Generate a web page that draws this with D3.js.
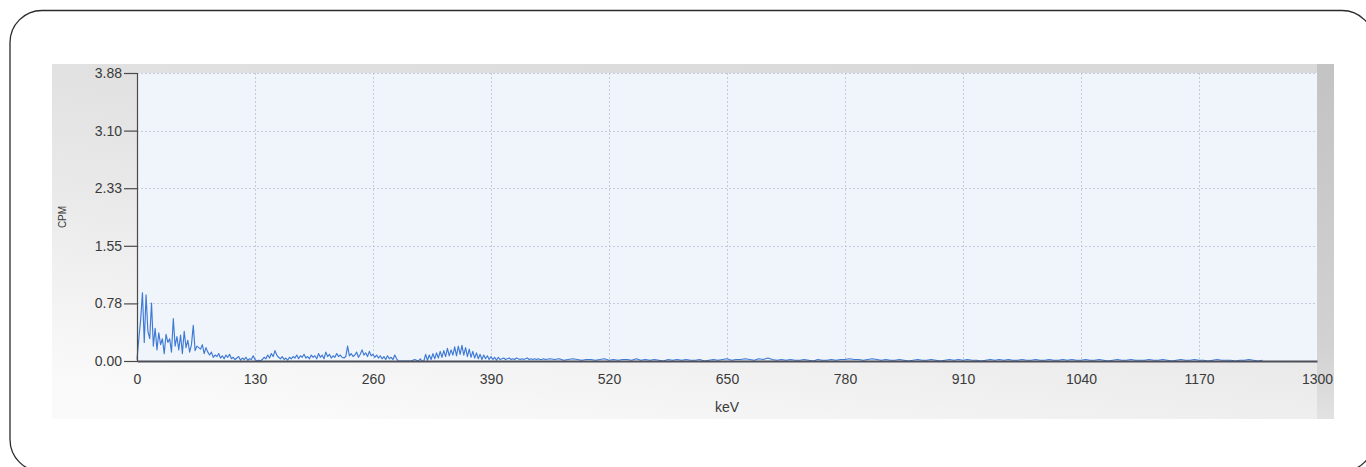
<!DOCTYPE html>
<html>
<head>
<meta charset="utf-8">
<script src="https://cdn.jsdelivr.net/npm/d3@7"></script>
<style>
  html, body { margin: 0; padding: 0; background: #ffffff; }
  svg { display: block; }
  text { font-family: "Liberation Sans", Arial, sans-serif; }
</style>
</head>
<body>
<svg id="chart" width="1366" height="467"></svg>
<script>
// Gamma spectrum: counts per minute by energy channel
const xTicks = [0, 130, 260, 390, 520, 650, 780, 910, 1040, 1170, 1300];
const yTicks = [0, 0.776, 1.552, 2.328, 3.104, 3.88];
const xTitle = "keV";
const yTitle = "CPM";

// Low-energy channels: 0 .. 450 keV, 2 keV wide
const lowStart = 0, lowStep = 2;
const lowCounts = [
  0.02, 0.30, 0.55, 0.92, 0.25, 0.89, 0.40, 0.30, 0.78, 0.20,
  0.44, 0.15, 0.38, 0.22, 0.30, 0.10, 0.36, 0.25, 0.30, 0.12,
  0.57, 0.20, 0.33, 0.15, 0.35, 0.10, 0.40, 0.18, 0.28, 0.12,
  0.22, 0.48, 0.14, 0.20, 0.18, 0.16, 0.22, 0.10, 0.18, 0.12,
  0.08, 0.12, 0.05, 0.08, 0.06, 0.10, 0.04, 0.07, 0.03, 0.08,
  0.05, 0.09, 0.03, 0.05, 0.02, 0.04, 0.06, 0.01, 0.04, 0.02,
  0.05, 0.01, 0.03, 0.02, 0.07, 0.02, 0.00, 0.01, 0.00, 0.02,
  0.05, 0.03, 0.08, 0.04, 0.10, 0.06, 0.14, 0.08, 0.05, 0.03,
  0.06, 0.02, 0.04, 0.01, 0.05, 0.03, 0.06, 0.04, 0.08, 0.03,
  0.07, 0.05, 0.09, 0.04, 0.06, 0.03, 0.08, 0.05, 0.07, 0.03,
  0.10, 0.05, 0.08, 0.03, 0.12, 0.06, 0.09, 0.04, 0.07, 0.05,
  0.10, 0.06, 0.08, 0.05, 0.04, 0.06, 0.20, 0.07, 0.10, 0.06,
  0.08, 0.12, 0.05, 0.09, 0.15, 0.08, 0.11, 0.06, 0.13, 0.07,
  0.09, 0.05, 0.08, 0.04, 0.07, 0.03, 0.06, 0.02, 0.07, 0.03,
  0.05, 0.02, 0.08, 0.03, 0.00, 0.00, 0.00, 0.00, 0.00, 0.00,
  0.00, 0.00, 0.01, 0.02, 0.01, 0.00, 0.03, 0.00, 0.00, 0.09,
  0.01, 0.08, 0.02, 0.10, 0.03, 0.11, 0.04, 0.13, 0.05, 0.14,
  0.06, 0.17, 0.07, 0.15, 0.08, 0.19, 0.07, 0.20, 0.09, 0.21,
  0.08, 0.18, 0.06, 0.16, 0.05, 0.13, 0.04, 0.11, 0.03, 0.09,
  0.02, 0.08, 0.03, 0.07, 0.02, 0.06, 0.02, 0.05, 0.01, 0.05,
  0.02, 0.03, 0.04, 0.02, 0.03, 0.04, 0.02, 0.03, 0.02, 0.04,
  0.03, 0.02, 0.03, 0.02, 0.03, 0.04, 0.02, 0.03, 0.02, 0.03,
  0.02, 0.03, 0.02, 0.02, 0.03, 0.02
];

// High-energy channels: 455 .. 1240 keV, 5 keV wide
const highStart = 455, highStep = 5;
const highCounts = [
  0.03, 0.02, 0.03, 0.01, 0.02, 0.03, 0.02, 0.01, 0.02, 0.02,
  0.01, 0.02, 0.03, 0.01, 0.02, 0.01, 0.02, 0.02, 0.01, 0.03,
  0.01, 0.02, 0.01, 0.02, 0.01, 0.00, 0.02, 0.01, 0.02, 0.01,
  0.02, 0.01, 0.01, 0.02, 0.00, 0.01, 0.02, 0.01, 0.02, 0.03,
  0.01, 0.02, 0.02, 0.03, 0.02, 0.01, 0.03, 0.02, 0.04, 0.02,
  0.01, 0.02, 0.01, 0.02, 0.01, 0.01, 0.02, 0.01, 0.00, 0.02,
  0.01, 0.01, 0.02, 0.01, 0.02, 0.02, 0.03, 0.02, 0.02, 0.01,
  0.02, 0.03, 0.02, 0.01, 0.02, 0.01, 0.01, 0.02, 0.01, 0.00,
  0.01, 0.02, 0.01, 0.01, 0.02, 0.01, 0.00, 0.01, 0.02, 0.01,
  0.02, 0.01, 0.02, 0.01, 0.01, 0.00, 0.01, 0.02, 0.01, 0.02,
  0.01, 0.02, 0.01, 0.01, 0.02, 0.01, 0.01, 0.02, 0.01, 0.01,
  0.02, 0.01, 0.01, 0.02, 0.01, 0.02, 0.01, 0.01, 0.02, 0.01,
  0.01, 0.02, 0.01, 0.00, 0.01, 0.02, 0.01, 0.01, 0.02, 0.01,
  0.01, 0.01, 0.02, 0.01, 0.01, 0.02, 0.01, 0.00, 0.01, 0.02,
  0.01, 0.01, 0.02, 0.01, 0.01, 0.00, 0.01, 0.02, 0.01, 0.01,
  0.01, 0.00, 0.01, 0.01, 0.02, 0.01, 0.00, 0.01
];

const spectrum = lowCounts.map((v, i) => ({ e: lowStart + i * lowStep, v }))
  .concat(highCounts.map((v, i) => ({ e: highStart + i * highStep, v })));

const svg = d3.select("#chart");
const defs = svg.append("defs");

// Outer frame with rounded corners
svg.append("rect")
  .attr("x", 10).attr("y", 10.5)
  .attr("width", 1364).attr("height", 461)
  .attr("rx", 32).attr("ry", 32)
  .attr("fill", "none").attr("stroke", "#2b2b2b").attr("stroke-width", 1.3);

// Control panel background
const panel = { x: 52, y: 64, w: 1282, h: 355 };
const pg = defs.append("linearGradient").attr("id", "panelGrad")
  .attr("x1", "0.7").attr("y1", "0").attr("x2", "0.2").attr("y2", "1");
pg.append("stop").attr("offset", "0").attr("stop-color", "#d9d9d9");
pg.append("stop").attr("offset", "0.55").attr("stop-color", "#e9e9e9");
pg.append("stop").attr("offset", "1").attr("stop-color", "#fafafa");
svg.append("rect")
  .attr("x", panel.x).attr("y", panel.y).attr("width", panel.w).attr("height", panel.h)
  .attr("fill", "url(#panelGrad)");

const rg = defs.append("linearGradient").attr("id", "rightGrad")
  .attr("x1", "0").attr("y1", "0").attr("x2", "0").attr("y2", "1");
rg.append("stop").attr("offset", "0").attr("stop-color", "#c3c3c3");
rg.append("stop").attr("offset", "0.8").attr("stop-color", "#d2d2d2");
rg.append("stop").attr("offset", "1").attr("stop-color", "#e2e2e2");
svg.append("rect")
  .attr("x", 1317).attr("y", panel.y).attr("width", panel.x + panel.w - 1317).attr("height", panel.h)
  .attr("fill", "url(#rightGrad)");

// Plot area
const plot = { left: 137, right: 1317, top: 73, bottom: 361 };
const x = d3.scaleLinear().domain([0, 1300]).range([plot.left, plot.right]);
const y = d3.scaleLinear().domain([0, 3.88]).range([plot.bottom, plot.top]);

svg.append("rect")
  .attr("x", plot.left).attr("y", plot.top)
  .attr("width", plot.right - plot.left).attr("height", plot.bottom - plot.top)
  .attr("fill", "#f0f4fb");

// Dashed grid
const grid = svg.append("g").attr("stroke", "#c3cbdc").attr("stroke-width", 1)
  .attr("stroke-dasharray", "2,2").attr("shape-rendering", "crispEdges");
grid.selectAll("line.v").data(xTicks.filter(t => t > 0 && t < 1300)).join("line")
  .attr("class", "v")
  .attr("x1", d => Math.round(x(d)) + 0.5).attr("x2", d => Math.round(x(d)) + 0.5)
  .attr("y1", plot.top).attr("y2", plot.bottom);
grid.selectAll("line.h").data(yTicks.filter(t => t > 0)).join("line")
  .attr("class", "h")
  .attr("x1", plot.left).attr("x2", plot.right)
  .attr("y1", d => Math.round(y(d)) + 0.5).attr("y2", d => Math.round(y(d)) + 0.5);

// Spectrum trace
const line = d3.line().x(d => x(d.e)).y(d => y(d.v));
svg.append("path")
  .datum(spectrum)
  .attr("d", line)
  .attr("fill", "none")
  .attr("stroke", "#3e7ad4")
  .attr("stroke-width", 1.15)
  .attr("stroke-linejoin", "round");

// Axes
const yAxis = d3.axisLeft(y).tickValues(yTicks).tickFormat(d3.format(".2f"))
  .tickSize(13).tickPadding(2);
const gy = svg.append("g").attr("transform", `translate(${plot.left},0)`).call(yAxis);
gy.select(".domain").attr("stroke", "#4a4a4a").attr("stroke-width", 1.2);
gy.selectAll(".tick line").attr("stroke", "#4a4a4a").attr("stroke-width", 1.2);
gy.selectAll(".tick text").attr("fill", "#3a3a3a").attr("font-size", 14)
  .attr("font-family", "Liberation Sans, Arial, sans-serif");

const xAxis = d3.axisBottom(x).tickValues(xTicks).tickFormat(d3.format("d"))
  .tickSize(0).tickPadding(13);
const gx = svg.append("g").attr("transform", `translate(0,${plot.bottom})`).call(xAxis);
gx.select(".domain").attr("stroke", "#4e4e58").attr("stroke-width", 2);
gx.selectAll(".tick text").attr("fill", "#3a3a3a").attr("font-size", 14)
  .attr("font-family", "Liberation Sans, Arial, sans-serif");

// Axis titles
svg.append("text")
  .attr("x", (plot.left + plot.right) / 2).attr("y", 412)
  .attr("text-anchor", "middle").attr("font-size", 14).attr("fill", "#3a3a3a")
  .text(xTitle);
svg.append("text")
  .attr("transform", `translate(66,${(plot.top + plot.bottom) / 2}) rotate(-90)`)
  .attr("text-anchor", "middle").attr("font-size", 10).attr("fill", "#3a3a3a")
  .text(yTitle);
</script>
</body>
</html>
